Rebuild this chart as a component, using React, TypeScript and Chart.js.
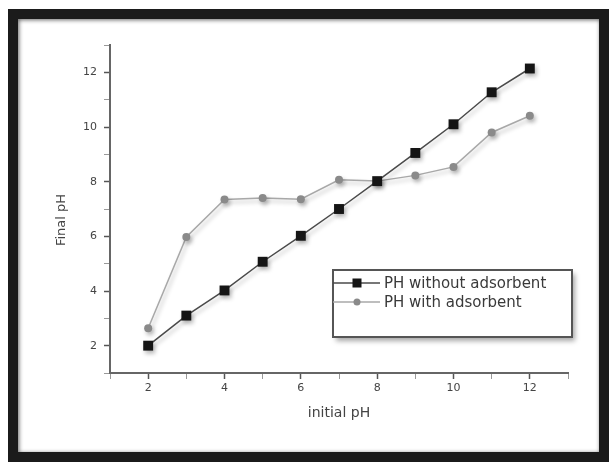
import React, { useEffect, useRef } from 'react';
import { Chart, registerables } from 'chart.js';

Chart.register(...registerables);

// ---- data ----
const initialPH = [2, 3, 4, 5, 6, 7, 8, 9, 10, 11, 12];
const phWithoutAdsorbent = [2.0, 3.1, 4.02, 5.07, 6.02, 7.0, 8.02, 9.05, 10.1, 11.27, 12.14];
const phWithAdsorbent = [2.64, 5.98, 7.35, 7.4, 7.36, 8.07, 8.02, 8.23, 8.54, 9.8, 10.41];
const seriesNames = ['PH without adsorbent', 'PH with adsorbent'];
const xTitle = 'initial pH';
const yTitle = 'Final pH';
const xRange = [1, 13];
const yRange = [1, 13];
const labelledTicks = [2, 4, 6, 8, 10, 12];

const FONT = "'DejaVu Sans', sans-serif";
const W = 609;
const H = 462;

const shadowPlugin = {
  id: 'shadowPlugin',
  beforeDatasetsDraw(chart: any) {
    const c = chart.ctx;
    c.save();
    c.shadowColor = 'rgba(0,0,0,0.28)';
    c.shadowBlur = 4;
    c.shadowOffsetX = 2;
    c.shadowOffsetY = 3;
  },
  afterDatasetsDraw(chart: any) {
    chart.ctx.restore();
  },
};

const yTitlePlugin = {
  id: 'yTitlePlugin',
  afterDraw(chart: any) {
    const { ctx, chartArea: ca } = chart;
    ctx.save();
    ctx.translate(ca.left - 48, (ca.top + ca.bottom) / 2 + 11);
    ctx.rotate(-Math.PI / 2);
    ctx.fillStyle = '#444';
    ctx.font = `13px ${FONT}`;
    ctx.textAlign = 'center';
    ctx.textBaseline = 'middle';
    ctx.fillText(yTitle, 0, 0);
    ctx.restore();
  },
};

const legendBoxPlugin = {
  id: 'legendBoxPlugin',
  afterDraw(chart: any) {
    const { ctx, chartArea: ca } = chart;
    const bx = ca.left + 223;
    const by = ca.top + 225;
    const bw = 239;
    const bh = 67;
    ctx.save();
    ctx.shadowColor = 'rgba(0,0,0,0.35)';
    ctx.shadowBlur = 5;
    ctx.shadowOffsetX = 3;
    ctx.shadowOffsetY = 4;
    ctx.fillStyle = '#ffffff';
    ctx.fillRect(bx, by, bw, bh);
    ctx.restore();
    ctx.save();
    ctx.strokeStyle = '#555';
    ctx.lineWidth = 2;
    ctx.strokeRect(bx, by, bw, bh);

    const rows = chart.data.datasets.map((ds: any, i: number) => ({
      ds,
      y: by + 13 + i * 19,
    }));
    rows.forEach(({ ds, y }: any) => {
      ctx.strokeStyle = ds.borderColor;
      ctx.lineWidth = ds.borderWidth;
      ctx.beginPath();
      ctx.moveTo(bx, y);
      ctx.lineTo(bx + 47, y);
      ctx.stroke();
      const mx = bx + 24;
      ctx.fillStyle = ds.pointBackgroundColor;
      if (ds.pointStyle === 'rect') {
        ctx.fillRect(mx - 4.5, y - 4.5, 9, 9);
      } else {
        ctx.beginPath();
        ctx.arc(mx, y, 3.5, 0, Math.PI * 2);
        ctx.fill();
      }
      ctx.fillStyle = '#3a3a3a';
      ctx.font = `15px ${FONT}`;
      ctx.textBaseline = 'middle';
      ctx.textAlign = 'left';
      ctx.fillText(ds.label, bx + 51, y + 1);
    });
    ctx.restore();
  },
};

export default function App() {
  const ref = useRef<HTMLCanvasElement | null>(null);

  useEffect(() => {
    if (!ref.current) return;
    const tickOpts = {
      autoSkip: false,
      stepSize: 1,
      color: '#444',
      font: { family: FONT, size: 11 },
      callback: (v: any) => (labelledTicks.includes(Number(v)) ? String(v) : ''),
    };
    const gridOpts = {
      display: true,
      drawOnChartArea: false,
      drawTicks: true,
      tickLength: 6,
      tickColor: (c: any) => (c.tick && c.tick.value % 2 === 0 ? '#555' : '#999'),
      tickWidth: (c: any) => (c.tick && c.tick.value % 2 === 0 ? 1.5 : 1),
    };
    const chart = new Chart(ref.current, {
      type: 'line',
      data: {
        datasets: [
          {
            label: seriesNames[0],
            data: initialPH.map((x, i) => ({ x, y: phWithoutAdsorbent[i] })),
            borderColor: '#4a4a4a',
            borderWidth: 1.5,
            pointStyle: 'rect',
            pointRadius: 7,
            pointBackgroundColor: '#151515',
            pointBorderColor: '#151515',
            pointBorderWidth: 0,
            tension: 0,
          },
          {
            label: seriesNames[1],
            data: initialPH.map((x, i) => ({ x, y: phWithAdsorbent[i] })),
            borderColor: '#a8a8a8',
            borderWidth: 1.5,
            pointStyle: 'circle',
            pointRadius: 4,
            pointBackgroundColor: '#8a8a8a',
            pointBorderColor: '#8a8a8a',
            pointBorderWidth: 0,
            tension: 0,
          },
        ],
      },
      options: {
        responsive: false,
        animation: false,
        devicePixelRatio: 1,
        layout: { padding: { left: 18, right: 41, top: 45, bottom: 39 } },
        plugins: {
          legend: { display: false },
          tooltip: { enabled: false },
        },
        scales: {
          x: {
            type: 'linear',
            min: xRange[0],
            max: xRange[1],
            border: { display: true, color: '#666', width: 2 },
            grid: gridOpts,
            ticks: { ...tickOpts, padding: 3 },
            title: {
              display: true,
              text: xTitle,
              color: '#444',
              font: { family: FONT, size: 14 },
              padding: { top: 0, bottom: 1 },
            },
            afterFit: (s: any) => {
              s.height = 50;
            },
          },
          y: {
            type: 'linear',
            min: yRange[0],
            max: yRange[1],
            border: { display: true, color: '#666', width: 2 },
            grid: gridOpts,
            ticks: { ...tickOpts, padding: 7 },
            title: { display: false },
            afterFit: (s: any) => {
              s.width = 92;
            },
          },
        },
      } as any,
      plugins: [shadowPlugin, yTitlePlugin, legendBoxPlugin],
    });
    return () => chart.destroy();
  }, []);

  return (
    <>
      <div
        style={{
          position: 'fixed',
          left: 8,
          top: 9,
          width: 601,
          height: 453,
          boxSizing: 'border-box',
          border: '10px solid #1b1b1b',
          background: '#fff',
          boxShadow: 'inset 1px 1px 4px rgba(0,0,0,0.6)',
        }}
      />
      <canvas
        ref={ref}
        width={W}
        height={H}
        style={{ position: 'fixed', left: 0, top: 0, width: W, height: H }}
      />
    </>
  );
}
